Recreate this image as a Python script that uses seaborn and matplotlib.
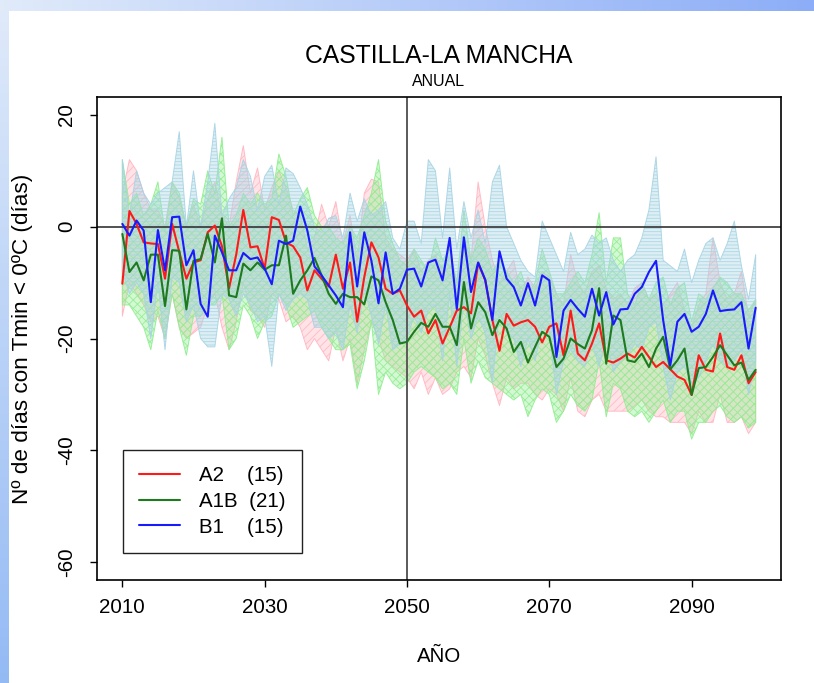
import numpy as np
import pandas as pd
import matplotlib
matplotlib.use("Agg")
import matplotlib.pyplot as plt
from matplotlib.colors import to_rgba
from matplotlib.lines import Line2D
import seaborn as sns

# ---- data: annual frost days anomaly (days with Tmin < 0 ºC) ----
years = list(range(2010, 2100))

a2_mean = [-10.2, 2.8, 0.5, -2.8, -3.0, -3.1, -9.3, 0.5, -4.5, -9.3,
           -6.4, -6.0, -1.0, 0.2, -3.5, -11.0, -5.0, 3.0, -3.7, -3.5,
           -7.5, 1.7, 1.2, -2.8, -3.5, -5.5, -11.4, -7.8, -9.3, -10.7,
           -5.0, -11.1, -6.4, -17.0, -9.0, -2.8, -5.5, -11.1, -12.0, -11.4,
           -14.1, -16.1, -15.0, -19.1, -16.7, -20.9, -18.0, -15.0, -14.4, -15.5,
           -6.5, -9.6, -16.7, -22.2, -15.6, -17.7, -17.1, -16.7, -17.9, -20.7,
           -17.9, -17.3, -23.0, -15.0, -22.7, -23.9, -20.9, -17.3, -23.9, -24.3,
           -23.6, -22.7, -23.4, -21.5, -23.3, -25.1, -24.2, -25.5, -26.8, -27.4,
           -30.1, -23.0, -25.6, -25.9, -19.1, -25.1, -25.6, -23.0, -28.0, -26.0]
a2_hi = [6, 12, 10, 6, 3, 3, 0, 8, 5, 0,
         4, 0, 5, 8, 2, 0, 8, 14.5, 6, 10.5,
         3, 7, 10, 7, 3, 2, -4, -2, 4, 0,
         4.5, -3, 2, -6, 6, 8.5, 8, -2, -4, -5,
         -6, -4, -8, -6, -5, -8, -4, -10, -2, -6,
         8, 0, -6, -10, -8, -6, -12, -9, -11, -8,
         -9, -12, -14, -5, -10, -12, -8, -7, -11, -13,
         -12, -14, -11, -10, -13, -12, -14, -12, -10, -15,
         -18, -14, -12, -2, -10, -13, -12, -8, -16, -13]
a2_lo = [-16, -10, -12, -14, -17, -16, -20, -12, -18, -20,
         -19, -18, -14, -12, -18, -22, -17, -10, -15, -16,
         -18, -12, -13, -17, -16, -18, -22, -20, -22, -24,
         -18, -24, -20, -28, -22, -17, -20, -24, -25, -26,
         -27, -29, -26, -30, -27, -30, -29, -26, -25, -27,
         -20, -23, -28, -32, -27, -29, -28, -28, -30, -31,
         -29, -30, -33, -27, -33, -34, -31, -30, -33, -33,
         -33, -33, -32, -31, -33, -34, -34, -35, -35, -35,
         -37, -33, -35, -35, -30, -35, -35, -34, -37, -35]

a1b_mean = [-1.3, -8.1, -6.4, -9.6, -5.0, -5.0, -14.2, -4.2, -4.3, -14.8,
            -6.1, -5.8, -1.3, -6.4, 1.5, -12.3, -12.6, -6.6, -7.8, -6.4,
            -7.7, -6.9, -6.9, -1.6, -12.0, -9.6, -7.8, -5.6, -8.7, -12.0,
            -13.8, -12.0, -12.6, -12.6, -13.9, -8.9, -9.6, -13.5, -16.7, -20.9,
            -20.6, -18.8, -17.2, -17.9, -15.6, -17.9, -17.9, -21.2, -9.9, -18.2,
            -13.5, -15.3, -19.4, -16.7, -18.2, -22.4, -20.6, -24.3, -21.5, -18.8,
            -19.7, -25.1, -23.6, -20.0, -21.0, -21.8, -18.5, -11.0, -24.5, -15.9,
            -16.7, -23.9, -24.2, -22.7, -25.1, -21.8, -19.7, -25.5, -23.9, -21.8,
            -30.1, -25.3, -25.1, -23.3, -21.2, -23.0, -24.8, -24.3, -27.4, -25.6]
a1b_hi = [12, 4, 6, 2, 4, 8, -1, 8, 6, 0,
          5, 4, 10, 6, 16, 0, 2, 6, 4, 6,
          4, 5, 13, 9, 2, 5, 7, 2, 0, 0,
          -2, -3, 0, -2, 2, 6, 12, 1, -3, -6,
          -7, -4, -6, -8, -2, -6, -4, -10, 3, -6,
          -2, -4, -8, -6, -8, -10, -8, -12, -10, -4,
          -8, -12, -12, -10, -8, -10, -5, 2.5, -10, -2,
          -2, -12, -14, -10, -13, -10, -9, -14, -11, -10,
          -17, -12, -13, -11, -9, -10, -12, -12, -15, -13]
a1b_lo = [-14, -14, -16, -18, -22, -15, -20, -12, -18, -23,
          -16, -16, -14, -14, -12, -22, -20, -14, -16, -20,
          -17, -16, -12, -14, -18, -17, -16, -15, -18, -20,
          -22, -22, -21, -29, -24, -17, -30, -26, -28, -29,
          -28, -26, -25, -26, -27, -29, -28, -30, -20, -28,
          -24, -27, -28, -29, -30, -31, -30, -34, -31, -29,
          -30, -35, -33, -30, -32, -33, -31, -24, -34, -28,
          -29, -33, -34, -33, -35, -33, -31, -35, -33, -33,
          -38, -35, -35, -33, -32, -34, -35, -34, -36, -35]

b1_mean = [0.5, -1.6, 1.1, -0.7, -13.5, -0.6, -7.8, 1.7, 1.8, -6.9,
           -4.2, -13.8, -16.1, -1.6, -4.6, -7.8, -7.8, -4.7, -5.8, -5.5,
           -7.5, -10.3, -2.5, -3.1, -2.5, 3.6, -0.7, -7.1, -8.7, -10.5,
           -12.3, -14.4, -1.0, -10.7, -1.0, -6.1, -13.7, -4.6, -12.0, -11.1,
           -7.7, -7.5, -10.7, -6.4, -5.9, -9.6, -2.0, -14.7, -1.9, -11.7,
           -6.4, -9.5, -16.7, -4.4, -9.3, -10.8, -14.1, -10.1, -14.1, -8.7,
           -9.6, -23.3, -15.0, -13.1, -14.7, -16.1, -11.1, -15.9, -11.7, -17.5,
           -14.8, -14.7, -12.0, -10.8, -8.1, -6.1, -16.7, -24.8, -17.0, -15.6,
           -18.8, -17.9, -15.6, -11.4, -15.1, -14.9, -14.8, -13.5, -21.8, -14.5]
b1_hi = [12, 2, 10, 6, 4, 6, 7, 8, 17, 0,
         10, 0, 8, 18.5, 2, 5, 7, 12, 9, 3,
         9, 11, 4, 10.5, 9.5, 7, 4, 0, -1, 1.5,
         2, -2, 6, 1, 5, 2, 3, 4.5, -2, -4,
         1, 1, -3, 12, 10, -2, 10.5, -4, 4.5, -2,
         3, -3, 8, 11, 0, -3, -6, -8, -9, 1,
         -2, -5, -8, -1, -5, -4, -1.5, -3, -2, -6,
         -8, -6, -5, -2, 3, 12.5, -6, -7, -8, -4,
         -10, -6, -3, -2, -6, -3, 1, -7, -13, -5]
b1_lo = [-8, -12, -10, -12, -20, -10, -22, -9, -10, -17,
         -14, -20, -21.5, -21.5, -12, -13, -16, -12, -14, -17,
         -16, -25, -12, -15, -13, -12, -13, -18, -18, -20,
         -19, -22, -14, -19, -11, -16, -21, -14, -22, -21,
         -20, -16, -19, -15, -14, -24, -12, -25, -13, -20,
         -16, -19, -28, -15, -19, -20, -25, -20, -24, -18,
         -19, -30, -24, -22, -24, -25, -21, -25, -20, -26,
         -24, -23, -21, -22, -18, -17, -25, -31, -26, -25,
         -28, -27, -24, -21, -24, -25, -24, -22, -30, -24]

scenarios = ["A2", "A1B", "B1"]
legend_labels = ["A2    (15)", "A1B  (21)", "B1    (15)"]
line_colors = {"A2": "#ff1a1a", "A1B": "#1e7a1e", "B1": "#1a1aff"}
band_colors = {"A2": "#ffb6c1", "A1B": "#90ee90", "B1": "#a8d4e4"}
band_hatch = {"A2": "////", "A1B": "xxxx", "B1": "-----"}

x_ticks = [2010, 2030, 2050, 2070, 2090]
y_ticks = [-60, -40, -20, 0, 20]

# ---- style ----
sns.set_style("ticks")
plt.rcParams["font.family"] = ["Liberation Sans", "DejaVu Sans"]
plt.rcParams["text.color"] = "black"
plt.rcParams["axes.labelcolor"] = "black"
plt.rcParams["xtick.color"] = "black"
plt.rcParams["ytick.color"] = "black"
plt.rcParams["axes.unicode_minus"] = False
plt.rcParams["hatch.linewidth"] = 0.6

W, H = 814, 683
fig = plt.figure(figsize=(W / 100, H / 100), dpi=100)
fig.patch.set_facecolor("white")

# slide frame: blue gradient strips along the top and left edges
frame = fig.add_axes([0, 0, 1, 1], zorder=-10)
img = np.ones((H, W, 3))
light = np.array([0.88, 0.92, 0.98])
dark_top = np.array([0.55, 0.68, 0.97])
dark_left = np.array([0.58, 0.73, 0.96])
tx = np.linspace(0, 1, W)[:, None]
img[:11, :, :] = (light * (1 - tx) + dark_top * tx)[None, :, :]
ty = np.linspace(0, 1, H)[:, None]
img[11:, :9, :] = (light * (1 - ty) + dark_left * ty)[11:, None, :]
frame.imshow(img, aspect="auto", extent=[0, 1, 0, 1], interpolation="bilinear")
frame.axis("off")

ax = fig.add_axes([97 / W, 1 - 580 / H, 684 / W, 483 / H])
ax.set_facecolor("white")

# spread between models for each scenario, hatched
bands = {"A2": (a2_lo, a2_hi), "A1B": (a1b_lo, a1b_hi), "B1": (b1_lo, b1_hi)}
for sc in scenarios:
    lo, hi = bands[sc]
    c = band_colors[sc]
    ax.fill_between(years, lo, hi, facecolor=to_rgba(c, 0.38),
                    edgecolor=to_rgba(c, 0.9), hatch=band_hatch[sc],
                    linewidth=0.7, zorder=1)

# reference lines
ax.axhline(0, color="#333333", linewidth=1.2, zorder=2)
ax.axvline(2050, color="#5a5a5a", linewidth=1.4, zorder=2)

# ensemble mean of each scenario
df = pd.DataFrame({
    "year": years * 3,
    "dias": a2_mean + a1b_mean + b1_mean,
    "escenario": [s for s in scenarios for _ in years],
})
sns.lineplot(data=df, x="year", y="dias", hue="escenario", hue_order=scenarios,
             palette=line_colors, estimator=None, linewidth=1.5,
             legend=False, ax=ax, zorder=3)

ax.set_xlim(2006.44, 2102.56)
ax.set_ylim(-63.2, 23.2)
ax.set_xticks(x_ticks)
ax.set_yticks(y_ticks)
ax.tick_params(axis="both", direction="out", length=5, width=1.0,
               color="black", labelsize=14.8, labelcolor="black")
ax.tick_params(axis="x", pad=8.2)
ax.tick_params(axis="y", pad=10.0, labelrotation=90)
for lbl in ax.get_yticklabels():
    lbl.set_va("center")
for sp in ax.spines.values():
    sp.set_visible(True)
    sp.set_color("black")
    sp.set_linewidth(1.2)

ax.set_xlabel("AÑO", fontsize=14.8)
ax.xaxis.set_label_coords(0.5, -0.138)
ax.set_ylabel("Nº de días con Tmin < 0ºC (días)", fontsize=16.2)
ax.yaxis.set_label_coords(-0.093, 0.5)

fig.text(439 / W, 1 - 56 / H, "CASTILLA-LA MANCHA", ha="center", va="center",
         fontsize=17.8)
fig.text(439 / W, 1 - 82 / H, "ANUAL", ha="center", va="center", fontsize=11.5)

handles = [Line2D([], [], color=line_colors[s], linewidth=1.5) for s in scenarios]
leg = ax.legend(handles, legend_labels, loc="lower left",
                bbox_to_anchor=(0.038, 0.056), borderaxespad=0, frameon=True,
                fancybox=False, fontsize=14.8, handlelength=1.95,
                handletextpad=0.95, labelspacing=0.32, borderpad=0.8)
leg.get_frame().set_edgecolor("#222222")
leg.get_frame().set_linewidth(1.0)
leg.get_frame().set_facecolor("white")
leg.get_frame().set_alpha(1.0)

fig.savefig("out.png", dpi=100)
